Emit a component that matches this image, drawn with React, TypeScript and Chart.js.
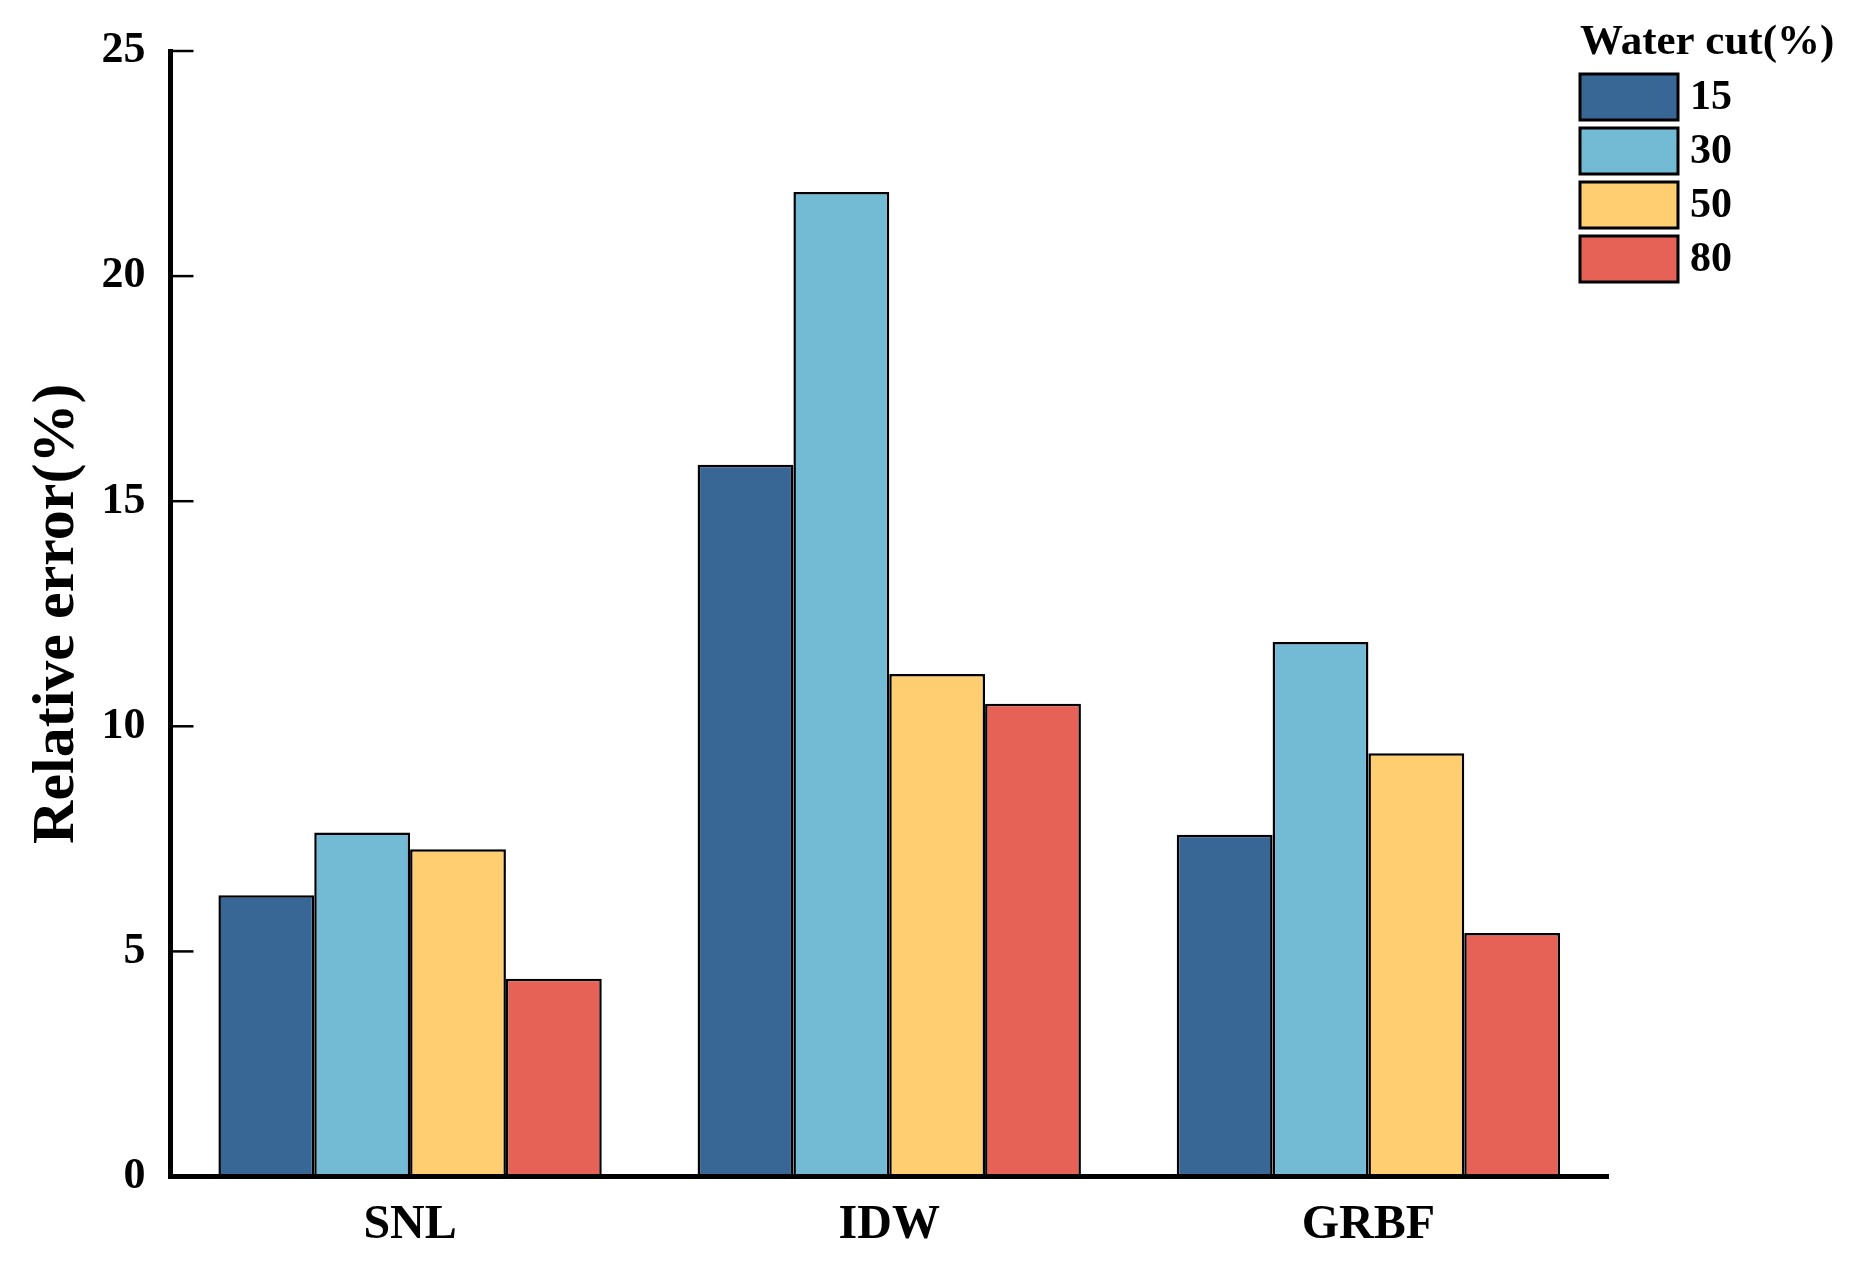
import React, { useEffect, useRef } from "react";
import { Chart, registerables } from "chart.js";

Chart.register(...registerables);

const categories = ["SNL", "IDW", "GRBF"];
const seriesLabels = ["15", "30", "50", "80"];
const wc15 = [6.25, 15.81, 7.59];
const wc30 = [7.64, 21.87, 11.87];
const wc50 = [7.27, 11.16, 9.4];
const wc80 = [4.39, 10.5, 5.41];
const seriesColors = ["#386795", "#73BBD5", "#FECE70", "#E66256"];
const yTicks = [0, 5, 10, 15, 20, 25];

const FONT = "'Liberation Serif', 'Times New Roman', serif";

const W = 1854;
const H = 1276;
const AREA_LEFT = 170.5;
const AREA_RIGHT = 1608;
const AREA_TOP = 51;
const AREA_BOTTOM = 1176.5;

const innerTicks = {
  id: "innerTicks",
  afterDatasetsDraw(chart: any) {
    const { ctx, chartArea } = chart;
    const y = chart.scales.y;
    ctx.save();
    ctx.strokeStyle = "#000";
    ctx.lineWidth = 2.5;
    y.ticks.forEach((t: any) => {
      const py = y.getPixelForValue(t.value);
      ctx.beginPath();
      ctx.moveTo(chartArea.left, py);
      ctx.lineTo(chartArea.left + 23, py);
      ctx.stroke();
    });
    ctx.restore();
  },
};

const customLegend = {
  id: "customLegend",
  afterDraw(chart: any) {
    const { ctx } = chart;
    ctx.save();
    ctx.fillStyle = "#000";
    ctx.textBaseline = "middle";
    ctx.textAlign = "left";
    ctx.font = `bold 43px ${FONT}`;
    ctx.fillText("Water cut(%)", 1580, 43);
    const bx = 1580;
    const bw = 98;
    const bh = 46;
    const startY = 74;
    const pitch = 54;
    chart.data.datasets.forEach((ds: any, i: number) => {
      const y0 = startY + i * pitch;
      ctx.fillStyle = ds.backgroundColor;
      ctx.fillRect(bx, y0, bw, bh);
      ctx.strokeStyle = "#000";
      ctx.lineWidth = 3;
      ctx.strokeRect(bx, y0, bw, bh);
      ctx.fillStyle = "#000";
      ctx.font = `bold 42px ${FONT}`;
      ctx.fillText(ds.label, 1690, y0 + bh / 2 + 1);
    });
    ctx.restore();
  },
};

export default function App() {
  const ref = useRef<HTMLCanvasElement | null>(null);

  useEffect(() => {
    if (!ref.current) return;
    const data = [wc15, wc30, wc50, wc80];
    const chart = new Chart(ref.current, {
      type: "bar",
      data: {
        labels: categories,
        datasets: seriesLabels.map((lab, i) => ({
          label: lab,
          data: data[i],
          backgroundColor: seriesColors[i],
          borderColor: "#000",
          borderWidth: 2.5,
          borderSkipped: false,
          categoryPercentage: 0.8,
          barPercentage: 1.0,
        })),
      },
      options: {
        animation: false,
        responsive: false,
        devicePixelRatio: 1,
        layout: {
          padding: { left: 0, right: W - AREA_RIGHT, top: AREA_TOP, bottom: 0 },
        },
        plugins: {
          legend: { display: false },
          tooltip: { enabled: false },
        },
        scales: {
          x: {
            grid: { display: false, drawTicks: false },
            border: { display: true, width: 5, color: "#000" },
            ticks: {
              color: "#000",
              padding: 20,
              font: { family: FONT, size: 48, weight: "bold" },
            },
            afterFit(scale: any) {
              scale.height = H - AREA_BOTTOM;
              scale.paddingLeft = 0;
              scale.paddingRight = 0;
            },
          },
          y: {
            min: 0,
            max: 25,
            afterBuildTicks(scale: any) {
              scale.ticks = yTicks.map((v) => ({ value: v }));
            },
            grid: { display: false, drawTicks: false },
            border: { display: true, width: 5, color: "#000" },
            ticks: {
              color: "#000",
              padding: 25,
              font: { family: FONT, size: 44, weight: "bold" },
            },
            title: {
              display: true,
              text: "Relative error(%)",
              color: "#000",
              padding: { top: 21, bottom: 0 },
              font: { family: FONT, size: 60, weight: "bold" },
            },
            afterFit(scale: any) {
              scale.width = AREA_LEFT;
              scale.paddingTop = 0;
              scale.paddingBottom = 0;
            },
          },
        },
      },
      plugins: [innerTicks, customLegend],
    });
    return () => chart.destroy();
  }, []);

  return (
    <div style={{ position: "absolute", left: 0, top: 0, width: W, height: H, background: "#fff" }}>
      <canvas ref={ref} width={W} height={H} style={{ width: W, height: H, display: "block" }} />
    </div>
  );
}
